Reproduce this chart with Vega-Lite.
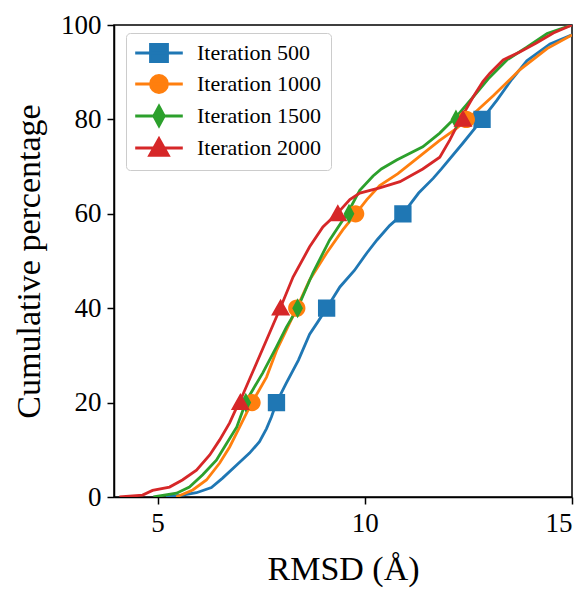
{
  "$schema": "https://vega.github.io/schema/vega-lite/v6.json",
  "width": 458,
  "height": 472,
  "autosize": {"type": "none"},
  "padding": {"left": 114, "top": 25, "right": 16, "bottom": 93},
  "background": "white",
  "config": {
    "view": {"stroke": "black", "strokeWidth": 1.5},
    "font": "Liberation Serif",
    "style": {"guide-label": {"font": "Liberation Serif"}, "guide-title": {"font": "Liberation Serif"}},
    "axis": {
      "grid": false,
      "labelFont": "Liberation Serif",
      "titleFont": "Liberation Serif",
      "labelFontSize": 27,
      "titleFontSize": 34,
      "titleFontWeight": "normal",
      "labelColor": "black",
      "titleColor": "black",
      "domainColor": "black",
      "tickColor": "black",
      "domainWidth": 1.5,
      "tickWidth": 1.5,
      "tickSize": 7,
      "labelPadding": 6
    },
    "legend": {
      "labelFont": "Liberation Serif",
      "labelFontSize": 22,
      "labelColor": "black"
    }
  },
  "datasets": {
    "curves": [
      {"series": "Iteration 500", "rmsd": 5.2, "pct": 0},
      {"series": "Iteration 500", "rmsd": 5.6, "pct": 0.4},
      {"series": "Iteration 500", "rmsd": 5.94, "pct": 0.9},
      {"series": "Iteration 500", "rmsd": 6.3, "pct": 2.0},
      {"series": "Iteration 500", "rmsd": 6.57, "pct": 4.0},
      {"series": "Iteration 500", "rmsd": 6.91, "pct": 6.8},
      {"series": "Iteration 500", "rmsd": 7.22, "pct": 9.3},
      {"series": "Iteration 500", "rmsd": 7.46, "pct": 11.7},
      {"series": "Iteration 500", "rmsd": 7.63, "pct": 14.5},
      {"series": "Iteration 500", "rmsd": 7.75, "pct": 17},
      {"series": "Iteration 500", "rmsd": 7.87, "pct": 20},
      {"series": "Iteration 500", "rmsd": 8.1, "pct": 24},
      {"series": "Iteration 500", "rmsd": 8.4, "pct": 29},
      {"series": "Iteration 500", "rmsd": 8.67, "pct": 34.5},
      {"series": "Iteration 500", "rmsd": 8.86, "pct": 37},
      {"series": "Iteration 500", "rmsd": 9.08, "pct": 40},
      {"series": "Iteration 500", "rmsd": 9.4, "pct": 44.5},
      {"series": "Iteration 500", "rmsd": 9.75, "pct": 48},
      {"series": "Iteration 500", "rmsd": 10.05, "pct": 51.7},
      {"series": "Iteration 500", "rmsd": 10.3, "pct": 54.5},
      {"series": "Iteration 500", "rmsd": 10.6, "pct": 57.5},
      {"series": "Iteration 500", "rmsd": 10.92, "pct": 60},
      {"series": "Iteration 500", "rmsd": 11.3, "pct": 64.4},
      {"series": "Iteration 500", "rmsd": 11.65, "pct": 67.5},
      {"series": "Iteration 500", "rmsd": 11.85, "pct": 69.5},
      {"series": "Iteration 500", "rmsd": 12.37, "pct": 75},
      {"series": "Iteration 500", "rmsd": 12.83, "pct": 80},
      {"series": "Iteration 500", "rmsd": 13.19, "pct": 84.1},
      {"series": "Iteration 500", "rmsd": 13.55, "pct": 88.5},
      {"series": "Iteration 500", "rmsd": 13.91, "pct": 92.4},
      {"series": "Iteration 500", "rmsd": 14.47, "pct": 96},
      {"series": "Iteration 500", "rmsd": 15.0, "pct": 97.9},

      {"series": "Iteration 1000", "rmsd": 5.45, "pct": 0},
      {"series": "Iteration 1000", "rmsd": 5.85, "pct": 1.5},
      {"series": "Iteration 1000", "rmsd": 6.18, "pct": 3.6},
      {"series": "Iteration 1000", "rmsd": 6.5, "pct": 7.2},
      {"series": "Iteration 1000", "rmsd": 6.74, "pct": 10.6},
      {"series": "Iteration 1000", "rmsd": 6.98, "pct": 14.8},
      {"series": "Iteration 1000", "rmsd": 7.15, "pct": 17.8},
      {"series": "Iteration 1000", "rmsd": 7.28, "pct": 20},
      {"series": "Iteration 1000", "rmsd": 7.63, "pct": 25.4},
      {"series": "Iteration 1000", "rmsd": 7.87, "pct": 31},
      {"series": "Iteration 1000", "rmsd": 8.11, "pct": 35.4},
      {"series": "Iteration 1000", "rmsd": 8.36, "pct": 40},
      {"series": "Iteration 1000", "rmsd": 8.67, "pct": 46},
      {"series": "Iteration 1000", "rmsd": 9.08, "pct": 51.7},
      {"series": "Iteration 1000", "rmsd": 9.47, "pct": 56.6},
      {"series": "Iteration 1000", "rmsd": 9.78, "pct": 60},
      {"series": "Iteration 1000", "rmsd": 10.05, "pct": 63},
      {"series": "Iteration 1000", "rmsd": 10.36, "pct": 66},
      {"series": "Iteration 1000", "rmsd": 10.8, "pct": 68.5},
      {"series": "Iteration 1000", "rmsd": 11.3, "pct": 72},
      {"series": "Iteration 1000", "rmsd": 11.8, "pct": 75.5},
      {"series": "Iteration 1000", "rmsd": 12.2, "pct": 78},
      {"series": "Iteration 1000", "rmsd": 12.6, "pct": 81},
      {"series": "Iteration 1000", "rmsd": 13.1, "pct": 85},
      {"series": "Iteration 1000", "rmsd": 13.74, "pct": 90.5},
      {"series": "Iteration 1000", "rmsd": 14.4, "pct": 95},
      {"series": "Iteration 1000", "rmsd": 15.0, "pct": 97.9},

      {"series": "Iteration 1500", "rmsd": 4.9, "pct": 0},
      {"series": "Iteration 1500", "rmsd": 5.46, "pct": 0.8},
      {"series": "Iteration 1500", "rmsd": 5.77, "pct": 2.1},
      {"series": "Iteration 1500", "rmsd": 6.09, "pct": 4.7},
      {"series": "Iteration 1500", "rmsd": 6.42, "pct": 7.8},
      {"series": "Iteration 1500", "rmsd": 6.67, "pct": 11.4},
      {"series": "Iteration 1500", "rmsd": 6.91, "pct": 14.8},
      {"series": "Iteration 1500", "rmsd": 7.06, "pct": 18.4},
      {"series": "Iteration 1500", "rmsd": 7.15, "pct": 20.5},
      {"series": "Iteration 1500", "rmsd": 7.54, "pct": 26.3},
      {"series": "Iteration 1500", "rmsd": 7.87, "pct": 31.8},
      {"series": "Iteration 1500", "rmsd": 8.11, "pct": 36},
      {"series": "Iteration 1500", "rmsd": 8.38, "pct": 40},
      {"series": "Iteration 1500", "rmsd": 8.75, "pct": 47.5},
      {"series": "Iteration 1500", "rmsd": 9.15, "pct": 54.4},
      {"series": "Iteration 1500", "rmsd": 9.6, "pct": 60.4},
      {"series": "Iteration 1500", "rmsd": 9.88, "pct": 65},
      {"series": "Iteration 1500", "rmsd": 10.2, "pct": 68},
      {"series": "Iteration 1500", "rmsd": 10.4, "pct": 69.5},
      {"series": "Iteration 1500", "rmsd": 10.77, "pct": 71.4},
      {"series": "Iteration 1500", "rmsd": 11.4, "pct": 74.2},
      {"series": "Iteration 1500", "rmsd": 11.81, "pct": 77.1},
      {"series": "Iteration 1500", "rmsd": 12.2, "pct": 80.5},
      {"series": "Iteration 1500", "rmsd": 12.61, "pct": 84.7},
      {"series": "Iteration 1500", "rmsd": 12.98, "pct": 88.6},
      {"series": "Iteration 1500", "rmsd": 13.43, "pct": 92.6},
      {"series": "Iteration 1500", "rmsd": 13.91, "pct": 95.3},
      {"series": "Iteration 1500", "rmsd": 14.4, "pct": 98.2},
      {"series": "Iteration 1500", "rmsd": 15.0, "pct": 100},

      {"series": "Iteration 2000", "rmsd": 4.08, "pct": 0},
      {"series": "Iteration 2000", "rmsd": 4.64, "pct": 0.4},
      {"series": "Iteration 2000", "rmsd": 4.88, "pct": 1.4},
      {"series": "Iteration 2000", "rmsd": 5.29, "pct": 2.1},
      {"series": "Iteration 2000", "rmsd": 5.6, "pct": 3.6},
      {"series": "Iteration 2000", "rmsd": 5.94, "pct": 5.7},
      {"series": "Iteration 2000", "rmsd": 6.26, "pct": 8.9},
      {"series": "Iteration 2000", "rmsd": 6.5, "pct": 12.1},
      {"series": "Iteration 2000", "rmsd": 6.74, "pct": 15.7},
      {"series": "Iteration 2000", "rmsd": 6.91, "pct": 19},
      {"series": "Iteration 2000", "rmsd": 7.0, "pct": 20.5},
      {"series": "Iteration 2000", "rmsd": 7.39, "pct": 28.4},
      {"series": "Iteration 2000", "rmsd": 7.7, "pct": 34.7},
      {"series": "Iteration 2000", "rmsd": 7.96, "pct": 40},
      {"series": "Iteration 2000", "rmsd": 8.27, "pct": 46.6},
      {"series": "Iteration 2000", "rmsd": 8.67, "pct": 53},
      {"series": "Iteration 2000", "rmsd": 8.99, "pct": 57.2},
      {"series": "Iteration 2000", "rmsd": 9.35, "pct": 60.2},
      {"series": "Iteration 2000", "rmsd": 9.64, "pct": 63},
      {"series": "Iteration 2000", "rmsd": 9.88, "pct": 64.4},
      {"series": "Iteration 2000", "rmsd": 10.36, "pct": 65.5},
      {"series": "Iteration 2000", "rmsd": 10.85, "pct": 66.8},
      {"series": "Iteration 2000", "rmsd": 11.4, "pct": 69.5},
      {"series": "Iteration 2000", "rmsd": 11.81, "pct": 72},
      {"series": "Iteration 2000", "rmsd": 12.05, "pct": 75.6},
      {"series": "Iteration 2000", "rmsd": 12.3, "pct": 79.9},
      {"series": "Iteration 2000", "rmsd": 12.61, "pct": 84.7},
      {"series": "Iteration 2000", "rmsd": 12.85, "pct": 88},
      {"series": "Iteration 2000", "rmsd": 13.02, "pct": 89.8},
      {"series": "Iteration 2000", "rmsd": 13.34, "pct": 92.6},
      {"series": "Iteration 2000", "rmsd": 13.74, "pct": 94.3},
      {"series": "Iteration 2000", "rmsd": 14.14, "pct": 96.2},
      {"series": "Iteration 2000", "rmsd": 14.55, "pct": 98.3},
      {"series": "Iteration 2000", "rmsd": 15.0, "pct": 100}
    ],
    "markers": [
      {"series": "Iteration 500", "rmsd": 7.87, "pct": 20},
      {"series": "Iteration 500", "rmsd": 9.08, "pct": 40},
      {"series": "Iteration 500", "rmsd": 10.92, "pct": 60},
      {"series": "Iteration 500", "rmsd": 12.83, "pct": 80},
      {"series": "Iteration 1000", "rmsd": 7.28, "pct": 20},
      {"series": "Iteration 1000", "rmsd": 8.36, "pct": 40},
      {"series": "Iteration 1000", "rmsd": 9.78, "pct": 60},
      {"series": "Iteration 1000", "rmsd": 12.45, "pct": 80},
      {"series": "Iteration 1500", "rmsd": 7.13, "pct": 20},
      {"series": "Iteration 1500", "rmsd": 8.38, "pct": 40},
      {"series": "Iteration 1500", "rmsd": 9.62, "pct": 60},
      {"series": "Iteration 1500", "rmsd": 12.2, "pct": 80},
      {"series": "Iteration 2000", "rmsd": 7.0, "pct": 20},
      {"series": "Iteration 2000", "rmsd": 7.97, "pct": 40},
      {"series": "Iteration 2000", "rmsd": 9.35, "pct": 60},
      {"series": "Iteration 2000", "rmsd": 12.37, "pct": 80}
    ]
  },
  "layer": [
    {
      "data": {"name": "curves"},
      "mark": {"type": "line", "strokeWidth": 2.8, "clip": true, "interpolate": "linear"},
      "encoding": {
        "x": {"field": "rmsd", "type": "quantitative", "scale": {"domain": [3.95, 15], "nice": false, "zero": false},
              "axis": {"values": [5, 10, 15], "title": "RMSD (Å)", "titlePadding": 16}},
        "y": {"field": "pct", "type": "quantitative", "scale": {"domain": [0, 100], "nice": false},
              "axis": {"values": [0, 20, 40, 60, 80, 100], "title": "Cumulative percentage", "titlePadding": 14}},
        "color": {"field": "series", "type": "nominal",
                  "scale": {"domain": ["Iteration 500", "Iteration 1000", "Iteration 1500", "Iteration 2000"],
                            "range": ["#1f77b4", "#ff7f0e", "#2ca02c", "#d62728"]},
                  "legend": {"title": null, "orient": "none", "legendX": 12, "legendY": 8,
                             "padding": 9, "fillColor": "white", "strokeColor": "#cccccc", "cornerRadius": 4,
                             "symbolSize": 289, "symbolOffset": 13, "labelOffset": 27, "rowPadding": 1,
                             "symbolStrokeWidth": 2.6,
                             "labelFontSize": 22, "labelFont": "Liberation Serif", "labelColor": "black",
                             "encode": {
                               "symbols": {"update": {
                                 "stroke": {"signal": "scale('color', datum.value)"},
                                 "strokeWidth": {"value": 2.8},
                                 "opacity": {"value": 1}
                               }}
                             }}},
        "detail": {"field": "series"}
      }
    },
    {
      "data": {"name": "markers"},
      "mark": {"type": "point", "filled": true, "opacity": 1, "size": 300, "strokeWidth": 0},
      "encoding": {
        "x": {"field": "rmsd", "type": "quantitative"},
        "y": {"field": "pct", "type": "quantitative"},
        "color": {"field": "series", "type": "nominal"},
        "shape": {"field": "series", "type": "nominal",
                  "scale": {"domain": ["Iteration 500", "Iteration 1000", "Iteration 1500", "Iteration 2000"],
                            "range": ["M-2.8,0H2.8M-1,-1H1V1H-1Z",
                                      "M-2.8,0H2.8M1,0A1,1,0,1,1,-1,0A1,1,0,1,1,1,0Z",
                                      "M-2.8,0H2.8M0,-1.15L0.62,0L0,1.15L-0.62,0Z",
                                      "M-2.8,0H2.8M0,-1.1L1.1,0.85L-1.1,0.85Z"]},
                  "legend": null}
      }
    }
  ],
  "encoding": {}
}
